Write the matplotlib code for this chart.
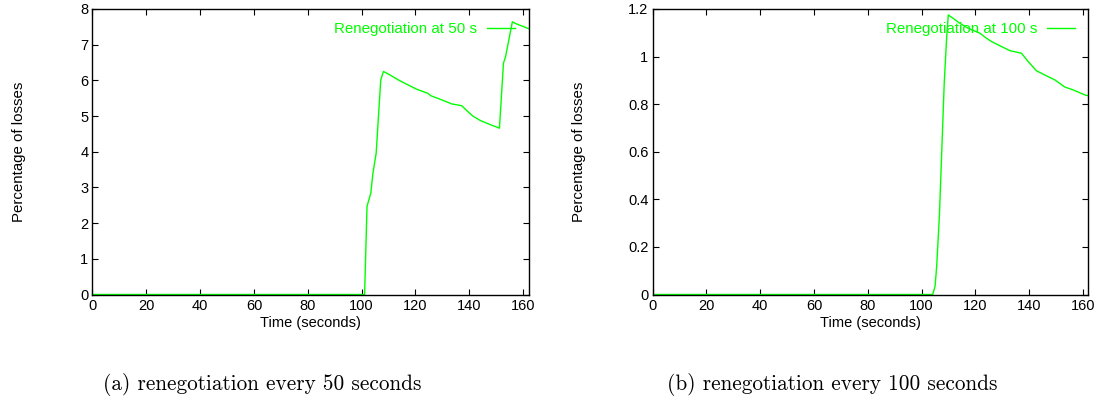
import matplotlib
matplotlib.use("Agg")
import matplotlib.pyplot as plt
from matplotlib.ticker import FuncFormatter

# Loss percentage over time, renegotiation every 50 s
time_50 = [0, 101.1, 102.0, 103.4, 104.2, 105.4, 107.1, 108.1, 110.6, 113.7,
           116.8, 120.5, 124.5, 125.7, 129.2, 133.5, 137.2, 139.1, 141.5,
           144.0, 146.5, 151.2, 152.7, 153.5, 156.0, 157.6, 160.7, 162.0]
loss_50 = [0, 0, 2.47, 2.84, 3.40, 3.96, 6.01, 6.25, 6.15, 6.01,
           5.89, 5.75, 5.64, 5.57, 5.47, 5.34, 5.29, 5.15, 4.99,
           4.88, 4.80, 4.66, 6.48, 6.67, 7.64, 7.58, 7.49, 7.45]

# Loss percentage over time, renegotiation every 100 s
time_100 = [0, 104.1, 105.0, 105.6, 106.6, 107.5, 108.4, 109.3, 109.9, 111.8,
            114.2, 117.3, 121.7, 124.1, 126.0, 129.7, 132.8, 137.1, 139.6,
            142.7, 144.5, 146.4, 149.5, 153.2, 156.3, 160.6, 162.0]
loss_100 = [0, 0, 0.035, 0.12, 0.33, 0.61, 0.89, 1.08, 1.175, 1.16,
            1.14, 1.119, 1.098, 1.077, 1.063, 1.042, 1.025, 1.014, 0.979,
            0.94, 0.930, 0.919, 0.902, 0.872, 0.860, 0.839, 0.835]

x_ticks = [0, 20, 40, 60, 80, 100, 120, 140, 160]
y_ticks_50 = [0, 1, 2, 3, 4, 5, 6, 7, 8]
y_ticks_100 = [0, 0.2, 0.4, 0.6, 0.8, 1.0, 1.2]

labels = ["Renegotiation at 50 s", "Renegotiation at 100 s"]
captions = ["(a) renegotiation every 50 seconds",
            "(b) renegotiation every 100 seconds"]

GREEN = "#00ff00"
W, H = 1099, 400

plt.rcParams["font.family"] = ["Liberation Sans", "DejaVu Sans"]
plt.rcParams["font.size"] = 10

fig = plt.figure(figsize=(W / 100, H / 100), dpi=100)

panels = [
    (92.5, time_50, loss_50, y_ticks_50, (0, 8), labels[0], captions[0], 262),
    (652.5, time_100, loss_100, y_ticks_100, (0, 1.2), labels[1], captions[1], 832),
]

for left_px, tx, ly, yt, ylim, lab, cap, cap_x in panels:
    ax = fig.add_axes([left_px / W, (H - 294.5) / H, 436 / W, 285.5 / H])
    ax.plot(tx, ly, color=GREEN, lw=1.0, label=lab)
    ax.set_xlim(0, 162)
    ax.set_ylim(*ylim)
    ax.set_xticks(x_ticks)
    ax.set_yticks(yt)
    ax.yaxis.set_major_formatter(FuncFormatter(lambda v, p: f"{v:g}"))
    ax.tick_params(direction="in", length=4, width=0.8, top=True, right=True,
                   labelsize=10.5, pad=3, colors="black")
    for s in ax.spines.values():
        s.set_linewidth(1.0)
    ax.set_xlabel("Time (seconds)", fontsize=10.5)
    ax.xaxis.set_label_coords(0.5, -0.075)
    ax.set_ylabel("Percentage of losses", fontsize=10.8)
    ax.yaxis.set_label_coords(-66.5 / 436, 0.5)
    ax.legend(loc="center right", frameon=False, markerfirst=False,
              labelcolor=GREEN, fontsize=10.9, handlelength=1.85,
              handletextpad=0.65, borderaxespad=0, borderpad=0,
              bbox_to_anchor=((515 - 92.5) / 436, (295 - 30) / 285.5))
    fig.text(cap_x / W, 1 - 384 / H, cap, ha="center", va="center",
             family="cmr10", fontsize=15.3)

fig.savefig("out.png", dpi=100)
